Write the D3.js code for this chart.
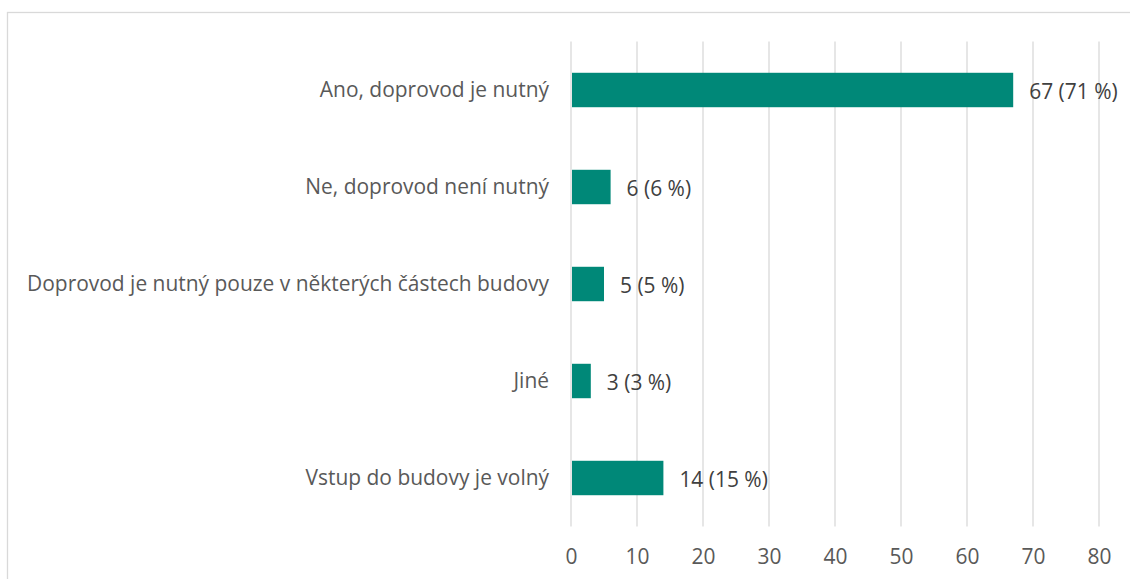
<!DOCTYPE html>
<html>
<head>
<meta charset="utf-8">
<script src="https://cdn.jsdelivr.net/npm/d3@7"></script>
<style>
  body { margin: 0; background: #fff; }
  text { font-family: "Open Sans", "Noto Sans", sans-serif; }
</style>
</head>
<body>
<div id="chart"></div>
<script>
const categories = [
  "Ano, doprovod je nutný",
  "Ne, doprovod není nutný",
  "Doprovod je nutný pouze v některých částech budovy",
  "Jiné",
  "Vstup do budovy je volný"
];
const counts = [67, 6, 5, 3, 14];
const percents = [71, 6, 5, 3, 15];
const xTicks = [0, 10, 20, 30, 40, 50, 60, 70, 80];

const W = 1130, H = 579;
const margin = {top: 41.5, right: 31, bottom: 52.5, left: 571};
const width = W - margin.left - margin.right,
      height = H - margin.top - margin.bottom;

const root = d3.select("#chart")
  .append("svg")
  .attr("width", W)
  .attr("height", H);

// find a font size so the longest label spans ~522px like the original
const probe = root.append("text").style("font-size", "20px").text(categories[2]);
const fs = 20 * 522 / probe.node().getComputedTextLength();
probe.remove();
const fsize = `${fs.toFixed(2)}px`;

// outer frame (only top and left edges visible)
root.append("rect")
  .attr("x", 7.5).attr("y", 12.5)
  .attr("width", W + 20).attr("height", H + 20)
  .attr("fill", "none")
  .attr("stroke", "#d9d9d9")
  .attr("stroke-width", 1.3);

const svg = root.append("g")
  .attr("transform", `translate(${margin.left},${margin.top})`);

const x = d3.scaleLinear().domain([0, 80]).range([0, 528]);
const y = d3.scaleBand().domain(categories).range([0, height]).paddingInner(0.645).paddingOuter(0.3225);

// gridlines
svg.append("g")
  .selectAll("line")
  .data(xTicks)
  .enter()
  .append("line")
  .attr("x1", d => x(d)).attr("x2", d => x(d))
  .attr("y1", 0).attr("y2", height)
  .attr("stroke", "#d9d9d9")
  .attr("stroke-width", 1.3);

// x axis labels
svg.append("g")
  .attr("transform", `translate(0, ${height})`)
  .call(d3.axisBottom(x).tickValues(xTicks).tickSize(0).tickPadding(23))
  .call(g => g.select(".domain").remove())
  .selectAll("text")
  .style("font-size", fsize)
  .style("font-family", "'Open Sans', 'Noto Sans', sans-serif")
  .attr("fill", "#595959");

// category labels
svg.append("g")
  .attr("transform", "translate(-22, 0)")
  .call(d3.axisLeft(y).tickSize(0).tickPadding(0))
  .call(g => g.select(".domain").remove())
  .selectAll("text")
  .style("font-size", fsize)
  .style("font-family", "'Open Sans', 'Noto Sans', sans-serif")
  .attr("fill", "#595959");

const data = categories.map((c, i) => ({cat: c, n: counts[i], p: percents[i]}));

svg.selectAll(".bar")
  .data(data)
  .enter()
  .append("rect")
  .attr("class", "bar")
  .attr("x", x(0) + 1)
  .attr("y", d => y(d.cat))
  .attr("width", d => x(d.n) - x(0) - 1)
  .attr("height", y.bandwidth())
  .attr("fill", "#008878");

svg.selectAll(".label")
  .data(data)
  .enter()
  .append("text")
  .attr("class", "label")
  .attr("x", d => x(d.n) + 16)
  .attr("y", d => y(d.cat) + y.bandwidth() / 2)
  .attr("dy", "0.42em")
  .style("font-size", fsize)
  .attr("fill", "#404040")
  .text(d => `${d.n} (${d.p} %)`);
</script>
</body>
</html>
